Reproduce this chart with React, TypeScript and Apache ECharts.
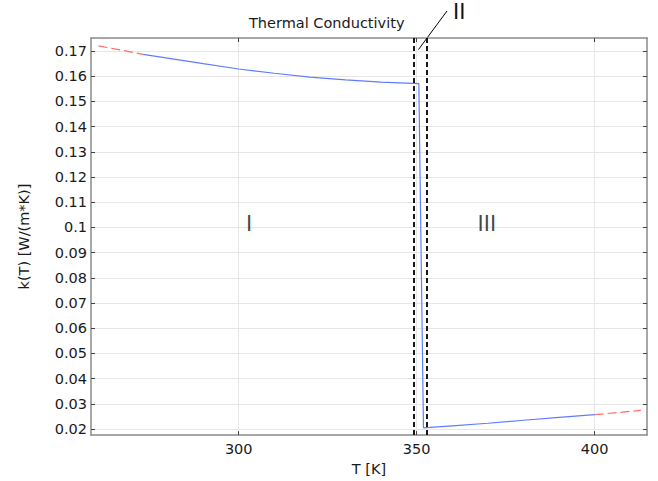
import React, { useEffect, useRef } from "react";
import * as echarts from "echarts";

// Temperature (K) / conductivity (W/(m*K))
const tBlueLow = [273.15, 280, 290, 300, 310, 320, 330, 340, 350.6];
const kBlueLow = [0.1687, 0.1672, 0.165, 0.1629, 0.1612, 0.1597, 0.1586, 0.1577, 0.1571];
const tBlueHigh = [351.9, 360, 370, 380, 390, 400];
const kBlueHigh = [0.0205, 0.0213, 0.0223, 0.0235, 0.0246, 0.0257];
const tRedLow = [260.6, 273.15];
const kRedLow = [0.1721, 0.1687];
const tRedHigh = [400, 413];
const kRedHigh = [0.0257, 0.0274];

const phaseBounds = [349.2, 352.7];
const regionNames = ["I", "III"];
const regionT = [302.9, 369.7];
const regionK = [0.1014, 0.1014];

const xTicks = [300, 350, 400];
const yTicks = [0.02, 0.03, 0.04, 0.05, 0.06, 0.07, 0.08, 0.09, 0.1, 0.11, 0.12, 0.13, 0.14, 0.15, 0.16, 0.17];

const X_MIN = 258.5;
const X_MAX = 414.7;
const Y_MIN = 0.0176;
const Y_MAX = 0.1752;

const FONT = "DejaVu Sans";
const TEXT = "#1a1a1a";
const FRAME = "#8a8a8a";
const GRID = "#e6e6e6";
const BLUE = "#5f7cff";
const RED = "#ff6b6b";

const zip = (a: number[], b: number[]) => a.map((v, i) => [v, b[i]]);

export default function App() {
  const ref = useRef<HTMLDivElement>(null);
  useEffect(() => {
    if (!ref.current) return;
    const chart = echarts.init(ref.current, null, { renderer: "svg" });
    const fmt = (v: number) => String(+Number(v).toFixed(3));
    const axisLine = { show: true, onZero: false, lineStyle: { color: FRAME, width: 1.5 } };
    const tick = (vals: number[]) => ({
      show: true,
      inside: true,
      length: 4,
      customValues: vals,
      lineStyle: { color: "#444", width: 1 },
    });
    chart.setOption({
      animation: false,
      backgroundColor: "#ffffff",
      textStyle: { fontFamily: FONT },
      title: {
        text: "Thermal Conductivity",
        left: 249,
        top: 15,
        padding: 0,
        textStyle: { fontFamily: FONT, fontSize: 14.5, fontWeight: "normal", color: TEXT },
      },
      grid: { left: 91, top: 38, right: 11, bottom: 41, containLabel: false },
      xAxis: [
        {
          type: "value",
          min: X_MIN,
          max: X_MAX,
          position: "bottom",
          name: "T [K]",
          nameLocation: "middle",
          nameGap: 21,
          nameTextStyle: { fontFamily: FONT, fontSize: 14.5, color: TEXT },
          axisLine,
          axisTick: tick(xTicks),
          axisLabel: {
            customValues: xTicks,
            margin: 6,
            fontFamily: FONT,
            fontSize: 14.5,
            color: TEXT,
            formatter: fmt,
          },
          splitLine: { show: true, lineStyle: { color: GRID, width: 1 } },
        },
        {
          type: "value",
          min: X_MIN,
          max: X_MAX,
          position: "top",
          axisLine,
          axisTick: tick(xTicks),
          axisLabel: { show: false },
          splitLine: { show: false },
        },
      ],
      yAxis: [
        {
          type: "value",
          min: Y_MIN,
          max: Y_MAX,
          position: "left",
          name: "k(T) [W/(m*K)]",
          nameLocation: "middle",
          nameGap: 60,
          nameTextStyle: { fontFamily: FONT, fontSize: 14.5, color: TEXT },
          axisLine,
          axisTick: tick(yTicks),
          axisLabel: {
            customValues: yTicks,
            margin: 4,
            fontFamily: FONT,
            fontSize: 14.5,
            color: TEXT,
            formatter: fmt,
          },
          splitLine: { show: true, lineStyle: { color: GRID, width: 1 } },
        },
        {
          type: "value",
          min: Y_MIN,
          max: Y_MAX,
          position: "right",
          axisLine,
          axisTick: tick(yTicks),
          axisLabel: { show: false },
          splitLine: { show: false },
        },
      ],
      series: [
        {
          type: "line",
          data: zip(tRedLow, kRedLow),
          showSymbol: false,
          symbol: "none",
          lineStyle: { color: RED, width: 1.2, type: [9, 4] },
        },
        {
          type: "line",
          data: zip(tRedHigh, kRedHigh),
          showSymbol: false,
          symbol: "none",
          lineStyle: { color: RED, width: 1.2, type: [9, 4] },
        },
        {
          type: "line",
          data: zip(tBlueLow, kBlueLow).concat(zip(tBlueHigh, kBlueHigh)),
          showSymbol: false,
          symbol: "none",
          smooth: false,
          lineStyle: { color: BLUE, width: 1.2 },
          markLine: {
            silent: true,
            symbol: "none",
            label: { show: false },
            lineStyle: { color: "#000", width: 1.8, type: [5, 3] },
            data: phaseBounds.map((t) => ({ xAxis: t })),
          },
        },
        {
          type: "scatter",
          symbolSize: 0,
          data: regionNames.map((n, i) => ({ name: n, value: [regionT[i], regionK[i]] })),
          label: {
            show: true,
            position: "inside",
            formatter: "{b}",
            fontFamily: FONT,
            fontSize: 21,
            color: "#111",
          },
        },
      ],
      graphic: [
        {
          type: "line",
          shape: { x1: 418.5, y1: 49.5, x2: 447, y2: 11 },
          style: { stroke: "#000", lineWidth: 1 },
        },
        {
          type: "text",
          left: 453,
          top: 1,
          style: { text: "II", fontFamily: FONT, fontSize: 21, fill: "#111" },
        },
      ],
    });
    return () => chart.dispose();
  }, []);
  return (
    <div
      ref={ref}
      style={{ position: "fixed", left: 0, top: 0, width: 658, height: 481, background: "#fff" }}
    />
  );
}
